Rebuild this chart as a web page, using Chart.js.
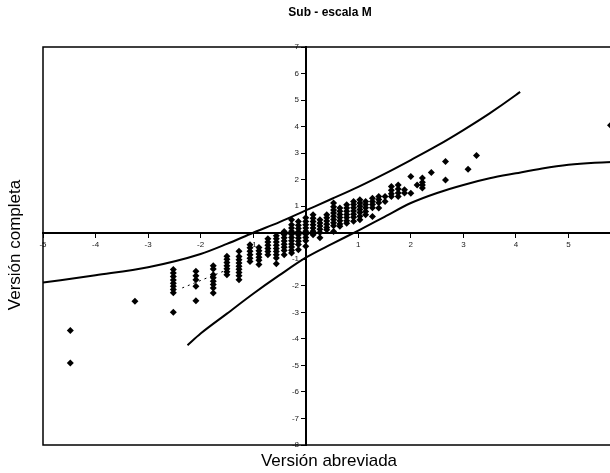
<!DOCTYPE html>
<html>
<head>
<meta charset="utf-8">
<script src="https://cdn.jsdelivr.net/npm/chart.js@4"></script>
<style>
  html, body { margin: 0; padding: 0; background: #fff; overflow: hidden; }
</style>
</head>
<body>
<canvas id="chart" width="640" height="473"></canvas>
<script>
// Columnas de puntos: puntuación versión abreviada (x) y versión completa (y)
const colX = [-4.48, -3.25, -2.52, -2.09, -1.76, -1.50, -1.27, -1.06, -0.89, -0.72, -0.56, -0.41, -0.27, -0.14,
  0, 0.14, 0.27, 0.40, 0.53, 0.65, 0.78, 0.91, 1.03, 1.14, 1.27, 1.39, 1.51, 1.63, 1.76, 1.88, 2.0, 2.12, 2.22,
  2.39, 2.66, 3.09, 3.25, 5.8];
const colY = [
  [-3.68, -4.91],
  [-2.58],
  [-1.39, -1.52, -1.65, -1.78, -1.9, -2.02, -2.14, -2.26, -3.0],
  [-1.45, -1.62, -1.77, -2.02, -2.56],
  [-1.24, -1.37, -1.58, -1.70, -1.83, -1.95, -2.08, -2.27],
  [-0.89, -1.0, -1.12, -1.24, -1.36, -1.47, -1.58],
  [-0.70, -0.9, -1.02, -1.14, -1.26, -1.38, -1.5, -1.62, -1.77],
  [-0.45, -0.57, -0.7, -0.83, -0.96, -1.08],
  [-0.56, -0.68, -0.8, -0.92, -1.04, -1.2],
  [-0.23, -0.35, -0.47, -0.59, -0.71, -0.83],
  [-0.11, -0.23, -0.35, -0.47, -0.59, -0.71, -0.83, -0.95, -1.17],
  [0.05, -0.07, -0.19, -0.31, -0.43, -0.55, -0.67, -0.83],
  [0.49, 0.3, 0.18, 0.06, -0.06, -0.18, -0.3, -0.42, -0.54, -0.66, -0.76],
  [0.42, 0.28, 0.16, 0.04, -0.08, -0.2, -0.32, -0.44, -0.64],
  [0.56, 0.42, 0.3, 0.18, 0.06, -0.06, -0.18, -0.3, -0.51],
  [0.68, 0.55, 0.42, 0.3, 0.18, 0.06, -0.08],
  [0.49, 0.37, 0.25, 0.13, 0.01, -0.19],
  [0.68, 0.56, 0.44, 0.32, 0.2, 0.11],
  [1.12, 0.98, 0.86, 0.74, 0.62, 0.5, 0.38, 0.26, 0.05],
  [0.93, 0.81, 0.69, 0.57, 0.45, 0.33, 0.24],
  [1.05, 0.93, 0.81, 0.69, 0.57, 0.45, 0.36],
  [1.18, 1.06, 0.94, 0.82, 0.7, 0.58, 0.43],
  [1.24, 1.12, 1.0, 0.88, 0.76, 0.62, 0.49],
  [1.18, 1.06, 0.94, 0.8, 0.68],
  [1.30, 1.18, 1.06, 0.94, 0.61],
  [1.37, 1.25, 1.13, 0.93],
  [1.37, 1.18],
  [1.74, 1.6, 1.47, 1.37],
  [1.80, 1.65, 1.5, 1.37],
  [1.62, 1.5],
  [2.12, 1.49],
  [1.8],
  [2.06, 1.9, 1.8, 1.69],
  [2.27],
  [2.68, 1.99],
  [2.39],
  [2.91],
  [4.05]
];

// Bandas superior e inferior
const upperX = [-5, -4, -3, -2, -1.5, -1, -0.5, 0, 0.5, 1, 1.5, 2, 2.5, 3, 3.5, 4, 4.08];
const upperY = [-1.88, -1.6, -1.3, -0.8, -0.42, 0, 0.4, 0.84, 1.28, 1.73, 2.22, 2.74, 3.28, 3.87, 4.5, 5.19, 5.31];
const lowerX = [-2.25, -2, -1.5, -1, -0.5, 0, 0.5, 1, 1.5, 2, 2.5, 3, 3.5, 4, 4.5, 5, 5.5, 6];
const lowerY = [-4.24, -3.8, -3.05, -2.3, -1.6, -0.94, -0.42, 0.08, 0.6, 1.12, 1.5, 1.8, 2.05, 2.24, 2.42, 2.56, 2.64, 2.68];

// pequeña línea discontinua
const dashX = [-2.35, -1.5];
const dashY = [-2.08, -1.4];

const xMin = -5, xMax = 6;
const yMin = -8, yMax = 7;

function toPoints(xs, ys) {
  return xs.map((x, i) => ({ x: x, y: ys[i] }));
}

const scatterPts = [];
colX.forEach((x, i) => {
  colY[i].forEach(y => scatterPts.push({ x: x, y: y }));
});

const FONT = 'Liberation Sans, Arial, sans-serif';

// marco y títulos
const framePlugin = {
  id: 'frame',
  afterDraw(chart) {
    const ctx = chart.ctx;
    const a = chart.chartArea;
    ctx.save();
    ctx.strokeStyle = '#000';
    ctx.lineWidth = 1.5;
    ctx.strokeRect(a.left, a.top, a.right - a.left, a.bottom - a.top);

    ctx.fillStyle = '#000';
    ctx.textAlign = 'center';
    ctx.textBaseline = 'middle';
    ctx.font = 'bold 12px ' + FONT;
    ctx.fillText('Sub - escala M', 330, 13);

    ctx.font = '17px ' + FONT;
    ctx.fillText('Versión abreviada', 329, 461);

    ctx.translate(15, 245);
    ctx.rotate(-Math.PI / 2);
    ctx.fillText('Versión completa', 0, 0);
    ctx.restore();
  }
};

new Chart(document.getElementById('chart'), {
  type: 'scatter',
  data: {
    datasets: [
      {
        data: scatterPts,
        pointStyle: 'rectRot',
        pointRadius: 3.5,
        pointBorderWidth: 0,
        backgroundColor: '#000',
        borderColor: '#000'
      },
      {
        data: toPoints(upperX, upperY),
        showLine: true,
        pointRadius: 0,
        borderColor: '#000',
        borderWidth: 2,
        cubicInterpolationMode: 'monotone'
      },
      {
        data: toPoints(lowerX, lowerY),
        showLine: true,
        pointRadius: 0,
        borderColor: '#000',
        borderWidth: 2,
        cubicInterpolationMode: 'monotone'
      },
      {
        data: toPoints(dashX, dashY),
        showLine: true,
        pointRadius: 0,
        borderColor: '#000',
        borderWidth: 1,
        borderDash: [2, 4]
      }
    ]
  },
  options: {
    responsive: false,
    animation: false,
    layout: { padding: { left: 43, top: 47, right: 19, bottom: 28 } },
    plugins: {
      legend: { display: false },
      tooltip: { enabled: false }
    },
    scales: {
      x: {
        type: 'linear',
        position: { y: 0 },
        min: xMin,
        max: xMax,
        ticks: {
          stepSize: 1,
          font: { family: FONT, size: 8 },
          color: '#222',
          padding: 3,
          maxRotation: 0,
          autoSkip: false,
          callback: v => (v === 0 || v === xMax) ? '' : v
        },
        grid: { drawOnChartArea: false, drawTicks: true, tickLength: 4, color: '#000' },
        border: { color: '#000', width: 2 }
      },
      y: {
        type: 'linear',
        position: { x: 0 },
        min: yMin,
        max: yMax,
        ticks: {
          stepSize: 1,
          font: { family: FONT, size: 8 },
          color: '#222',
          padding: 2,
          autoSkip: false,
          // espacios para separar la etiqueta del eje
          callback: v => v === 0 ? '' : v + '   '
        },
        grid: { drawOnChartArea: false, drawTicks: true, tickLength: 4, color: '#000' },
        border: { color: '#000', width: 2 }
      }
    }
  },
  plugins: [framePlugin]
});
</script>
</body>
</html>
